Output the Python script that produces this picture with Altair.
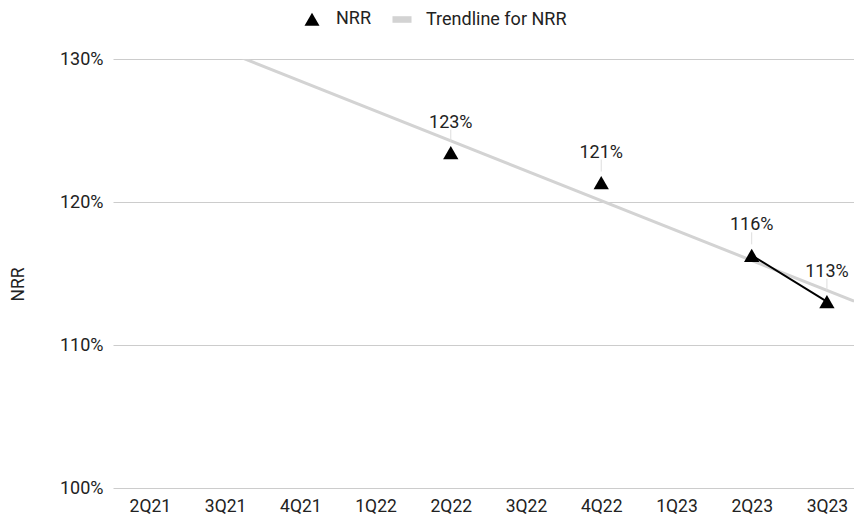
import json
import altair as alt
import pandas as pd

quarters = ["2Q21", "3Q21", "4Q21", "1Q22", "2Q22", "3Q22", "4Q22", "1Q23", "2Q23", "3Q23"]
nrr = [None, None, None, None, 1.2345, None, 1.2136, None, 1.1627, 1.1303]
series_names = ["NRR", "Trendline for NRR"]
y_ticks = [1.0, 1.1, 1.2, 1.3]

df = pd.DataFrame({
    "idx": list(range(len(quarters))),
    "quarter": quarters,
    "nrr": nrr,
    "series": ["NRR"] * len(quarters),
})

FONT = "Roboto"
TXT = "#222222"
x_domain = [-0.49, 9.36]
label_expr = f"{json.dumps(quarters)}[datum.value]"

TRI = "M0,-0.866L1,0.866L-1,0.866Z"
BAR = "M-1.27,-0.44H1.27V0.44H-1.27Z"

x_enc = alt.X(
    "idx:Q",
    scale=alt.Scale(domain=x_domain, nice=False, zero=False),
    axis=alt.Axis(values=list(range(len(quarters))), labelExpr=label_expr, title=None,
                  grid=False, domain=False, ticks=False, labelPadding=9,
                  labelFontSize=17.5, labelColor=TXT, labelFont=FONT),
)
y_scale = alt.Scale(domain=[1.0, 1.3], nice=False, zero=False)
y_enc = alt.Y(
    "nrr:Q", scale=y_scale,
    axis=alt.Axis(values=y_ticks, format=".0%", title="NRR", grid=True, gridColor="#cccccc",
                  domain=False, ticks=False, labelPadding=10, labelFontSize=18,
                  labelColor=TXT, labelFont=FONT, titleFont=FONT, titleFontSize=17.5,
                  titleFontWeight="normal", titleColor=TXT, titlePadding=32, titleY=225),
)

base = alt.Chart(df)
valid = base.transform_filter("isValid(datum.nrr)")

trend = valid.transform_regression(
    "idx", "nrr", extent=x_domain
).mark_line(color="#d3d3d3", strokeWidth=3, clip=True).encode(x=x_enc, y=y_enc)

line = base.mark_line(color="black", strokeWidth=2, invalid="break-paths-filter-domains").encode(
    x=x_enc, y=y_enc
)

points = valid.mark_point(filled=True, size=234, opacity=1).encode(
    x=x_enc,
    y=y_enc,
    color=alt.Color("series:N", scale=alt.Scale(domain=series_names, range=["black", "#d3d3d3"]),
                    legend=alt.Legend(title=None, orient="none", direction="horizontal",
                                      legendX=190, legendY=-49, labelFontSize=18, labelFont=FONT,
                                      labelColor=TXT, symbolSize=225, columnPadding=17,
                                      labelOffset=15, symbolOpacity=1)),
    shape=alt.Shape("series:N", scale=alt.Scale(domain=series_names, range=[TRI, BAR])),
)

leaders = valid.mark_rule(
    color="#dddddd", strokeWidth=1, yOffset=-11, y2Offset=-23
).encode(x=x_enc, y=y_enc, y2=alt.Y2("nrr:Q"))

labels = valid.mark_text(
    dy=-25, baseline="alphabetic", fontSize=18, font=FONT, color=TXT
).encode(x=x_enc, y=y_enc, text=alt.Text("nrr:Q", format=".0%"))

chart = alt.layer(trend, line, leaders, points, labels).properties(
    width=741, height=429,
    background="white",
    autosize=alt.AutoSizeParams(type="none"),
    padding={"left": 113, "top": 59, "right": 0, "bottom": 33},
).configure_view(stroke=None)

chart.save("out.html", embed_options={"renderer": "svg", "actions": False})
